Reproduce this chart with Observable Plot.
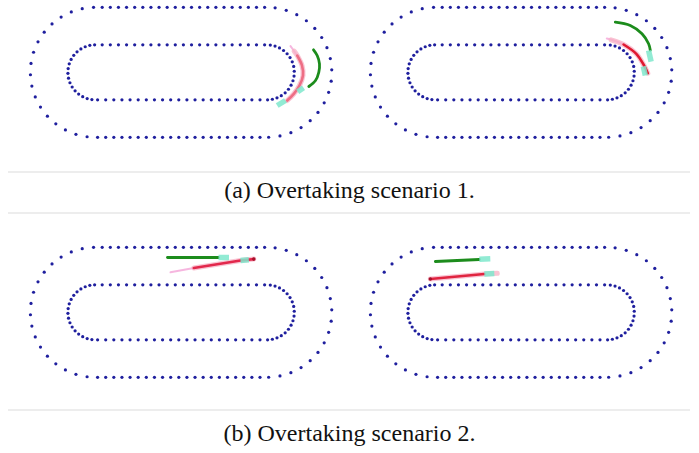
<!DOCTYPE html>
<html><head><meta charset="utf-8">
<script src="https://cdn.jsdelivr.net/npm/d3@7"></script>
<script src="https://cdn.jsdelivr.net/npm/@observablehq/plot@0.6"></script>
<style>
html,body{margin:0;padding:0;background:#fff;}
#fig{position:relative;width:699px;height:453px;overflow:hidden;background:#fff;}
.panel{position:absolute;}
.panel svg{display:block;background:transparent;}
.cap{position:absolute;left:0;width:699px;text-align:center;font-family:"Liberation Serif","Times New Roman",serif;font-size:24px;line-height:24px;color:#111;white-space:nowrap;}
.rule{position:absolute;left:8px;width:682px;height:2px;background:#ededed;}
</style></head><body><div id="fig"></div>
<script>
// ---- text ----
const captions = ["(a) Overtaking scenario 1.", "(b) Overtaking scenario 2."];

// ---- track geometry (units: 1 = 10 px) ----
const trackCurveCenterX = [-8.57, 8.57];   // centres of the two semicircular ends
const trackCenterRadius = [4.625];         // centre-line radius of the ends
const trackHalfWidth = [1.875];            // half track width (outer r 6.5, inner r 2.75)
const trackDotCount = [78];                // boundary markers per side
const trackFirstDotOffset = [0.68];        // first marker along the top straight

// ---- scenario 1, left panel ----
const s1aGreen    = [[13.24,2.25],[13.61,1.68],[13.84,0.85],[13.77,0.01],[13.44,-0.82],[12.77,-1.42]];
const s1aGreenCar = [[11.66,-1.95],[12.24,-1.55]];
const s1aRedFade  = [[10.94,2.62],[11.30,2.12],[11.61,1.68]];
const s1aRedCore  = [[11.61,1.68],[12.09,0.68],[12.19,-0.32],[11.84,-1.32],[11.27,-2.15],[10.61,-2.82]];
const s1aRedHalo  = [[11.30,2.12],[11.61,1.68],[12.09,0.68],[12.19,-0.32],[11.84,-1.32],[11.27,-2.15],[10.61,-2.82]];
const s1aRedCar   = [[9.61,-3.32],[10.44,-2.82]];
const s1aRedTip   = [];

// ---- scenario 1, right panel ----
const s1bGreen    = [[9.42,5.01],[10.92,4.68],[12.09,3.85],[12.75,2.85],[12.92,2.2]];
const s1bGreenCar = [[12.75,2.18],[13.0,1.06]];
const s1bRedFade  = [[8.57,3.38],[9.5,3.1],[10.25,2.78]];
const s1bRedCore  = [[10.25,2.78],[11.52,1.85],[12.27,0.73],[12.67,-0.09]];
const s1bRedHalo  = [[9.0,3.25],[10.25,2.78],[11.52,1.85],[12.27,0.73],[12.67,-0.09]];
const s1bRedCar   = [[12.22,0.6],[12.42,-0.32]];
const s1bRedTip   = [];

// ---- scenario 2, left panel ----
const s2aGreen    = [[-1.36,5.48],[3.74,5.48]];
const s2aGreenCar = [[3.74,5.48],[4.79,5.48]];
const s2aRedFade  = [[-1.06,4.01],[1.27,4.43]];
const s2aRedCore  = [[1.27,4.43],[5.94,5.18],[7.27,5.32]];
const s2aRedHalo  = [[1.27,4.43],[5.94,5.18],[7.27,5.32]];
const s2aRedCar   = [[5.94,5.18],[6.77,5.26]];
const s2aRedTip   = [[7.27,5.32]];

// ---- scenario 2, right panel ----
const s2bGreen    = [[-8.58,5.08],[-4.18,5.28]];
const s2bGreenCar = [[-4.18,5.31],[-3.08,5.35]];
const s2bRedFade  = [];
const s2bRedCore  = [[-9.08,3.33],[-3.68,3.83]];
const s2bRedHalo  = [[-9.08,3.33],[-3.68,3.83],[-2.38,3.9]];
const s2bRedCar   = [[-3.68,3.83],[-2.68,3.88]];
const s2bRedTip   = [[-9.08,3.33]];

// ---- build track markers from the measured geometry ----
function trackDots() {
  const [xl, xr] = trackCurveCenterX;
  const R = trackCenterRadius[0], hw = trackHalfWidth[0], n = trackDotCount[0], s0 = trackFirstDotOffset[0];
  const Ls = xr - xl, La = Math.PI * R, total = 2 * Ls + 2 * La, step = total / n;
  const outer = [], inner = [];
  for (let i = 0; i < n; i++) {
    const s = (s0 + i * step) % total;
    let px, py, nx, ny;
    if (s < Ls) { px = xl + s; py = R; nx = 0; ny = 1; }
    else if (s < Ls + La) { const t = (s - Ls) / R; px = xr + R * Math.sin(t); py = R * Math.cos(t); nx = Math.sin(t); ny = Math.cos(t); }
    else if (s < 2 * Ls + La) { px = xr - (s - Ls - La); py = -R; nx = 0; ny = -1; }
    else { const t = (s - 2 * Ls - La) / R; px = xl - R * Math.sin(t); py = -R * Math.cos(t); nx = -Math.sin(t); ny = -Math.cos(t); }
    outer.push([px + hw * nx, py + hw * ny]);
    inner.push([px - hw * nx, py - hw * ny]);
  }
  return {outer, inner};
}
const track = trackDots();

const style = {
  dot: "#1f1f9e", green: "#1c8c1c", car: "#7fe8cc", halo: "#f7b0c4", fade: "#f5aedc",
  core: ["#ee6e84", "#e01a30", "#e2284c", "#e02440"]
};

function panel(d, k, left, top) {
  const curve = d.green.length > 2 ? "catmull-rom" : "linear";
  const xy = {x: d => d[0], y: d => d[1]};
  const p = Plot.plot({
    width: 341, height: 170, margin: 0,
    x: {domain: [-18.06, 16.04], axis: null},
    y: {domain: [-9.82, 7.18], axis: null},
    marks: [
      Plot.dot(track.outer, {...xy, r: 1.6, fill: style.dot}),
      Plot.dot(track.inner, {...xy, r: 1.6, fill: style.dot}),
      Plot.line(d.fade, {...xy, stroke: style.fade, strokeWidth: 2, strokeOpacity: 0.9, curve}),
      Plot.line(d.halo, {...xy, stroke: style.halo, strokeWidth: 5, strokeOpacity: 0.75, curve}),
      Plot.line(d.core, {...xy, stroke: style.core[k], strokeWidth: 2.6, curve}),
      Plot.line(d.redCar, {...xy, stroke: style.car, strokeWidth: 5.5, strokeOpacity: 0.85, strokeLinecap: "butt"}),
      Plot.dot(d.tip, {...xy, r: 1.8, fill: "#a8102a"}),
      Plot.line(d.green, {...xy, stroke: style.green, strokeWidth: 2.8, curve}),
      Plot.line(d.greenCar, {...xy, stroke: style.car, strokeWidth: 5.5, strokeOpacity: 0.85, strokeLinecap: "butt"})
    ]
  });
  const div = document.createElement("div");
  div.className = "panel";
  div.style.left = left + "px";
  div.style.top = top + "px";
  div.appendChild(p);
  fig.appendChild(div);
}

const fig = document.getElementById("fig");
panel({green: s1aGreen, greenCar: s1aGreenCar, fade: s1aRedFade, halo: s1aRedHalo, core: s1aRedCore, redCar: s1aRedCar, tip: s1aRedTip}, 0, 0, 0);
panel({green: s1bGreen, greenCar: s1bGreenCar, fade: s1bRedFade, halo: s1bRedHalo, core: s1bRedCore, redCar: s1bRedCar, tip: s1bRedTip}, 1, 340, 0);
panel({green: s2aGreen, greenCar: s2aGreenCar, fade: s2aRedFade, halo: s2aRedHalo, core: s2aRedCore, redCar: s2aRedCar, tip: s2aRedTip}, 2, 0, 240);
panel({green: s2bGreen, greenCar: s2bGreenCar, fade: s2bRedFade, halo: s2bRedHalo, core: s2bRedCore, redCar: s2bRedCar, tip: s2bRedTip}, 3, 340, 240);

function rule(top) {
  const r = document.createElement("div");
  r.className = "rule"; r.style.top = top + "px"; fig.appendChild(r);
}
function caption(text, top) {
  const c = document.createElement("div");
  c.className = "cap"; c.style.top = top + "px"; c.textContent = text; fig.appendChild(c);
}
rule(171); rule(212); rule(409);
caption(captions[0], 178);
caption(captions[1], 421);
</script></body></html>
